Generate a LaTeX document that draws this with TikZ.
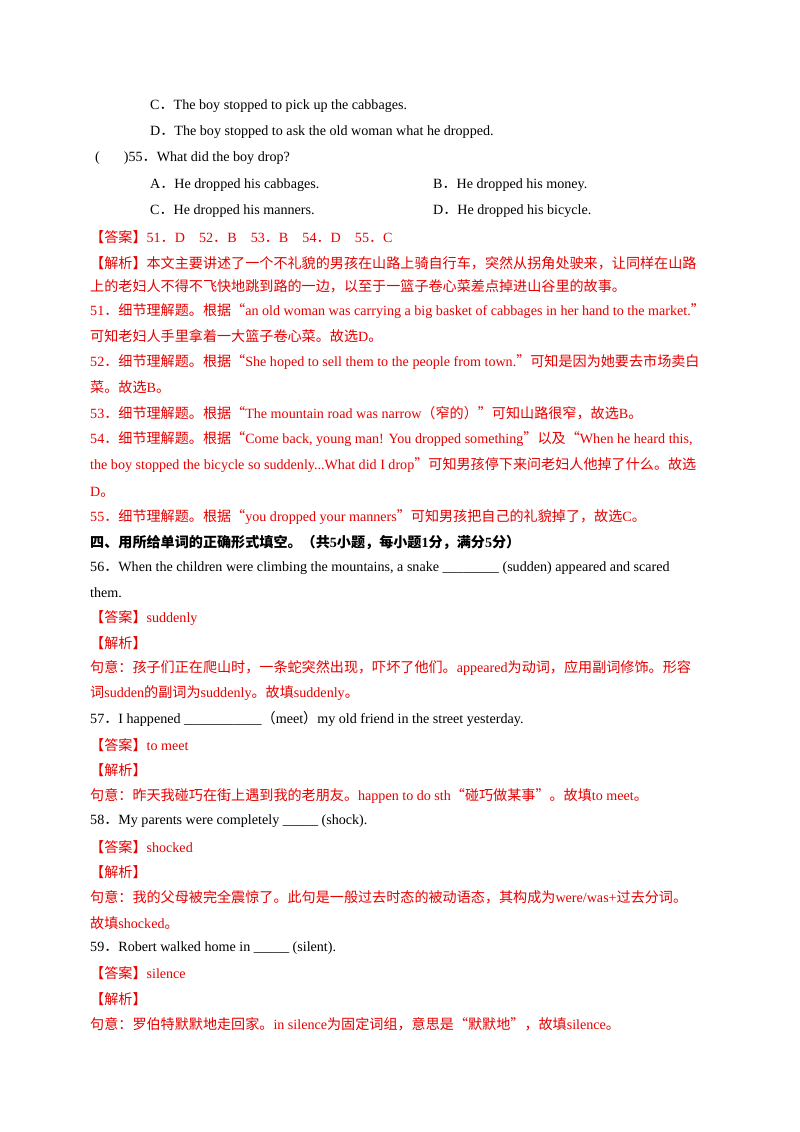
\documentclass[tikz,border=0pt]{standalone}
\usepackage{fontspec}
\setmainfont{Liberation Serif}
\newfontfamily\latin{Liberation Serif}
\newfontfamily\cjk{Noto Sans CJK SC}
\XeTeXinterchartokenstate=1
\newXeTeXintercharclass\CJKc
\count255="3000 \loop\XeTeXcharclass\count255=\CJKc\ifnum\count255<"303F \advance\count255 1 \repeat
\count255="4E00 \loop\XeTeXcharclass\count255=\CJKc\ifnum\count255<"9FFF \advance\count255 1 \repeat
\count255="FF00 \loop\XeTeXcharclass\count255=\CJKc\ifnum\count255<"FFEF \advance\count255 1 \repeat
\XeTeXcharclass"201C=\CJKc \XeTeXcharclass"201D=\CJKc
\XeTeXinterchartoks 0 \CJKc = {\cjk}
\XeTeXinterchartoks 4095 \CJKc = {\cjk}
\XeTeXinterchartoks \CJKc 0 = {\latin}
\XeTeXinterchartoks \CJKc 4095 = {\latin}
\definecolor{ans}{RGB}{230,0,0}
\begin{document}
\begin{tikzpicture}[x=1pt,y=-1pt,
  ln/.style={anchor=west,inner sep=0pt,font=\fontsize{14.1}{16}\selectfont},
  rd/.style={ln,text=ans}]
\useasboundingbox (0,0) rectangle (800,1132);
\node[ln] (l1) at (150,106) {C．The boy stopped to pick up the cabbages.};
\node[ln] (l2) at (150,132) {D．The boy stopped to ask the old woman what he dropped.};
\node[ln] (l3) at (95,158) {(\hspace{24pt})55．What did the boy drop?};
\node[ln] (l4a) at (150,185) {A．He dropped his cabbages.};
\node[ln] (l4b) at (433,185) {B．He dropped his money.};
\node[ln] (l5a) at (150,211) {C．He dropped his manners.};
\node[ln] (l5b) at (433,211) {D．He dropped his bicycle.};
\node[rd] (l6) at (90,237) {【答案】51．D\quad 52．B\quad 53．B\quad 54．D\quad 55．C};
\node[rd] (l7) at (90,263) {【解析】本文主要讲述了一个不礼貌的男孩在山路上骑自行车，突然从拐角处驶来，让同样在山路};
\node[rd] (l8) at (90,286) {上的老妇人不得不飞快地跳到路的一边，以至于一篮子卷心菜差点掉进山谷里的故事。};
\node[rd] (l9) at (90,311) {51．细节理解题。根据“an old woman was carrying a big basket of cabbages in her hand to the market.”};
\node[rd] (l10) at (90,336) {可知老妇人手里拿着一大篮子卷心菜。故选D。};
\node[rd] (l11) at (90,362) {52．细节理解题。根据“She hoped to sell them to the people from town.”可知是因为她要去市场卖白};
\node[rd] (l12) at (90,387) {菜。故选B。};
\node[rd] (l13) at (90,413) {53．细节理解题。根据“The mountain road was narrow（窄的）”可知山路很窄，故选B。};
\node[rd] (l14) at (90,439) {54．细节理解题。根据“Come back, young man! You dropped something”以及“When he heard this,};
\node[rd] (l15) at (90,465) {the boy stopped the bicycle so suddenly...What did I drop”可知男孩停下来问老妇人他掉了什么。故选};
\node[rd] (l16) at (90,492) {D。};
\node[rd] (l17) at (90,517) {55．细节理解题。根据“you dropped your manners”可知男孩把自己的礼貌掉了，故选C。};
\node[ln,font=\fontsize{14.1}{16}\selectfont\bfseries] (l18) at (90,542) {四、用所给单词的正确形式填空。（共5小题，每小题1分，满分5分）};
\node[ln] (l19) at (90,568) {56．When the children were climbing the mountains, a snake \_\_\_\_\_\_\_\_ (sudden) appeared and scared};
\node[ln] (l20) at (90,593) {them.};
\node[rd] (l21) at (90,618) {【答案】suddenly};
\node[rd] (l22) at (90,643) {【解析】};
\node[rd] (l23) at (90,668) {句意：孩子们正在爬山时，一条蛇突然出现，吓坏了他们。appeared为动词，应用副词修饰。形容};
\node[rd] (l24) at (90,693) {词sudden的副词为suddenly。故填suddenly。};
\node[ln] (l25) at (90,719) {57．I happened \_\_\_\_\_\_\_\_\_\_\_（meet）my old friend in the street yesterday.};
\node[rd] (l26) at (90,745) {【答案】to meet};
\node[rd] (l27) at (90,770) {【解析】};
\node[rd] (l28) at (90,796) {句意：昨天我碰巧在街上遇到我的老朋友。happen to do sth“碰巧做某事”。故填to meet。};
\node[ln] (l29) at (90,821) {58．My parents were completely \_\_\_\_\_ (shock).};
\node[rd] (l30) at (90,847) {【答案】shocked};
\node[rd] (l31) at (90,872) {【解析】};
\node[rd] (l32) at (90,897) {句意：我的父母被完全震惊了。此句是一般过去时态的被动语态，其构成为were/was+过去分词。};
\node[rd] (l33) at (90,923) {故填shocked。};
\node[ln] (l34) at (90,948) {59．Robert walked home in \_\_\_\_\_ (silent).};
\node[rd] (l35) at (90,973) {【答案】silence};
\node[rd] (l36) at (90,999) {【解析】};
\node[rd] (l37) at (90,1024) {句意：罗伯特默默地走回家。in silence为固定词组，意思是“默默地”，故填silence。};
\end{tikzpicture}
\end{document}
